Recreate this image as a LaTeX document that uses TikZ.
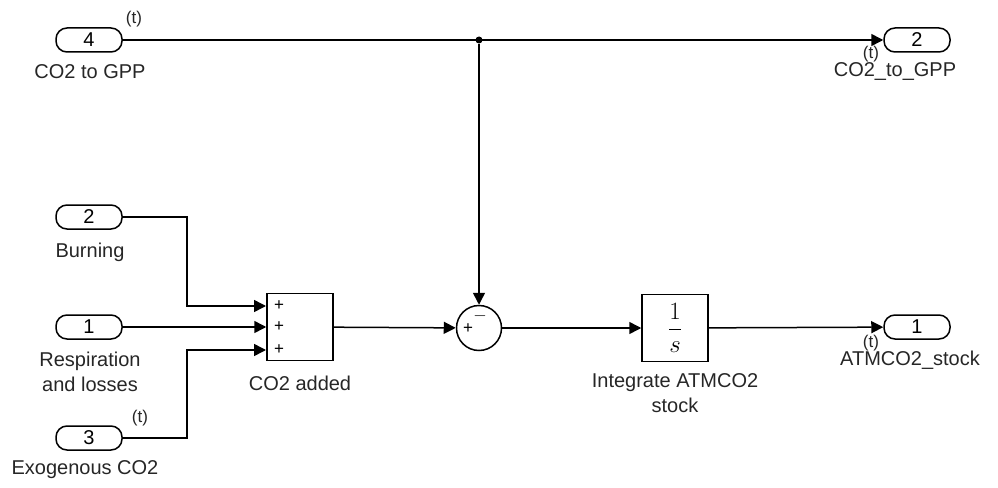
\documentclass[tikz,border=0pt]{standalone}
\usepackage{fontspec}
\setmainfont{Liberation Sans}
\usetikzlibrary{arrows.meta, positioning}

\begin{document}
\begin{tikzpicture}[x=1pt, y=-1pt,
      port/.style={rectangle, rounded corners=11pt, draw, line width=1.5pt,
                   minimum width=66pt, minimum height=24pt, inner sep=0pt,
                   font=\fontsize{20}{22}\selectfont},
      blk/.style={rectangle, draw, line width=1.5pt, minimum width=66pt,
                  minimum height=67pt, inner sep=0pt, font=\fontsize{23}{26}\selectfont},
      sumc/.style={circle, draw, line width=1.5pt, minimum size=45pt, inner sep=0pt},
      lbl/.style={font=\fontsize{20}{25}\selectfont, align=center, text=black!85},
      tag/.style={font=\fontsize{17}{18}\selectfont, text=black!85},
      sgn/.style={font=\fontsize{17}{18}\selectfont, inner sep=0pt},
      dot/.style={circle, fill, minimum size=7pt, inner sep=0pt},
      arr/.style={-{Triangle[length=12pt, width=12pt]}, line width=1.5pt},
      wire/.style={line width=1.5pt}]
      \useasboundingbox (0,0) rectangle (998,487);
      % Inports
      \node[port] (in4) at (89,40) {4};
      \node[port] (in2) at (89,217) {2};
      \node[port] (in1) at (89,327) {1};
      \node[port] (in3) at (89,438) {3};
      % Outports
      \node[port] (out2) at (917,40) {2};
      \node[port] (out1) at (917,327) {1};
      % Blocks
      \node[blk] (add) at (300,327) {};
      \node[sumc] (sum) at (479,328) {};
      \node[blk] (integ) at (675,328) {$\displaystyle\frac{1}{s}$};
      \node[dot] (jn) at (479,40) {};
      % Signs
      \node[sgn] (p1) at (279,306) {+};
      \node[sgn] (p2) at (279,327) {+};
      \node[sgn] (p3) at (279,350) {+};
      \node[sgn] (sp) at (468,329) {+};
      \node[sgn] (sm) at (480,316) {$-$};
      % Labels
      \node[lbl] (l4) at (90,72) {CO2 to GPP};
      \node[lbl] (l2) at (90,252) {Burning};
      \node[lbl] (l1) at (90,372) {Respiration\\and losses};
      \node[lbl] (l3) at (85,470) {Exogenous CO2};
      \node[lbl] (lo2) at (895,72) {CO2\_to\_GPP};
      \node[lbl] (lo1) at (910,360) {ATMCO2\_stock};
      \node[lbl] (ladd) at (300,383) {CO2 added};
      \node[lbl] (lint) at (675,393) {Integrate ATMCO2\\stock};
      \node[tag] (t4) at (134,19) {(t)};
      \node[tag] (t3) at (140,418) {(t)};
      \node[tag] (to2) at (871,54) {(t)};
      \node[tag] (to1) at (871,343) {(t)};
      % Wires
      \coordinate (a1) at (266,306);
      \coordinate (a3) at (266,350);
      \coordinate (b2) at (187,217);
      \coordinate (b3) at (187,438);
      \draw[arr] (in4) -- (out2);
      \draw[arr] (jn) -- (sum.north);
      \draw[arr] (in2) -- (b2) |- (a1);
      \draw[arr] (in1) -- (add);
      \draw[arr] (in3) -- (b3) |- (a3);
      \draw[arr] (add) -- (sum);
      \draw[arr] (sum) -- (integ);
      \draw[arr] (integ) -- (out1);
   \end{tikzpicture}
\end{document}
